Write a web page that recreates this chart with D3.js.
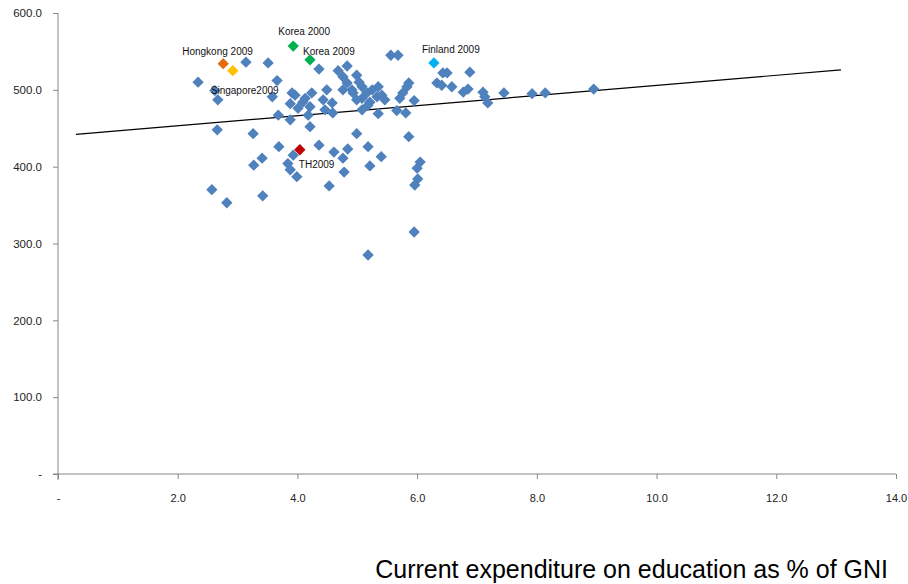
<!DOCTYPE html>
<html>
<head>
<meta charset="utf-8">
<script src="https://cdn.jsdelivr.net/npm/d3@7"></script>
<style>
  body { margin: 0; background: #fff; }
  svg text { font-family: "Liberation Sans", Arial, sans-serif; }
</style>
</head>
<body>
<div id="chart"></div>
<script>
	// data: countries (blue series)
	var spendX = [2.34, 2.62, 2.67, 3.14, 3.51, 3.66, 3.58, 2.66, 3.26, 3.68,
		3.88, 3.69, 3.93, 3.41, 3.27, 3.84, 3.88, 3.99, 2.57, 2.82,
		3.42, 3.91, 3.88, 3.96, 4.09, 4.13, 4.21, 4.18, 4.21, 4.24,
		4.01, 4.36, 4.43, 4.46, 4.49, 4.58, 4.59, 4.36, 4.61, 4.53,
		4.68, 4.76, 4.83, 4.99, 5.03, 4.83, 4.76, 4.91, 5.08, 5.16,
		5.25, 5.35, 5.41, 5.33, 5.08, 4.99, 5.21, 5.46, 4.93, 5.08,
		5.18, 5.35, 4.99, 4.84, 5.18, 4.76, 5.40, 5.21, 4.78, 5.18,
		5.56, 5.68, 5.71, 5.83, 5.86, 5.76, 5.95, 5.66, 5.81, 5.86,
		6.05, 6.00, 6.01, 5.96, 5.95, 6.43, 6.50, 6.88, 6.33, 6.41,
		6.58, 6.77, 6.85, 7.10, 7.13, 7.18, 7.45, 7.92, 8.14, 8.95];
	var scoreY = [510, 499, 487, 536, 535, 512, 491, 448, 443, 467,
		461, 426, 415, 411, 402, 404, 396, 387, 370, 353,
		362, 496, 482, 493, 484, 489, 478, 467, 452, 496,
		476, 527, 487, 474, 500, 483, 470, 428, 419, 375,
		525, 517, 531, 519, 510, 509, 500, 500, 504, 496,
		500, 504, 493, 491, 489, 487, 484, 487, 496, 474,
		480, 469, 443, 423, 426, 411, 413, 401, 393, 285,
		545, 545, 489, 504, 509, 496, 486, 473, 470, 439,
		406, 398, 384, 376, 315, 522, 522, 523, 509, 506,
		504, 497, 501, 497, 491, 483, 496, 495, 496, 501];

	// highlighted points
	var hlNames = ["Hongkong 2009", "Singapore2009", "Korea 2000", "Korea 2009", "Finland 2009", "TH2009"];
	var hlX = [2.76, 2.92, 3.93, 4.21, 6.28, 4.04];
	var hlY = [534, 525, 557, 539, 535, 422];

	// trend line end points
	var trendX = [0.3, 13.08];
	var trendY = [442, 526];

	// tick values
	var xTicks = [0, 2, 4, 6, 8, 10, 12, 14];
	var yTicks = [0, 100, 200, 300, 400, 500, 600];

	var xTitle = "Current expenditure on education as % of GNI";

	// styles
	var hlColors = {
		"Hongkong 2009": "#E46C0A",
		"Singapore2009": "#FFC000",
		"Korea 2000": "#00B050",
		"Korea 2009": "#00B050",
		"Finland 2009": "#00B0F0",
		"TH2009": "#C00000"
	};
	var hlLabelOffset = {
		"Hongkong 2009": [-41, -9],
		"Singapore2009": [-22, 23],
		"Korea 2000": [-15, -11],
		"Korea 2009": [-7, -5],
		"Finland 2009": [-12, -10],
		"TH2009": [-1, 18]
	};

	var width = 908, height = 584;
	var margin = { left: 58, right: 12, top: 13, bottom: 110 };

	var svg = d3.select("#chart")
		.append("svg")
			.attr("width", width)
			.attr("height", height);

	var x = d3.scaleLinear()
		.domain([0, 14])
		.range([margin.left, 896]);
	var y = d3.scaleLinear()
		.domain([0, 600])
		.range([474, margin.top]);

	var fmt = function(d) { return d === 0 ? "-" : d3.format(".1f")(d); };

	// y axis
	var yAxis = svg.append("g")
		.attr("transform", "translate(" + margin.left + ",0)")
		.call(d3.axisLeft(y).tickValues(yTicks).tickFormat(fmt).tickSize(5).tickPadding(11).tickSizeOuter(0));
	yAxis.select(".domain").attr("stroke", "#868686").attr("d", "M0," + y(600) + "V" + (y(0) + 6));
	yAxis.selectAll(".tick line").attr("stroke", "#868686");
	yAxis.selectAll(".tick text").attr("font-size", "11.5px").attr("fill", "#222");

	// x axis
	var xAxis = svg.append("g")
		.attr("transform", "translate(0," + y(0) + ")")
		.call(d3.axisBottom(x).tickValues(xTicks).tickFormat(fmt).tickSize(5).tickPadding(15).tickSizeOuter(0));
	xAxis.select(".domain").attr("stroke", "#868686").attr("d", "M" + (margin.left - 5) + ",0H" + x(14));
	xAxis.selectAll(".tick line").attr("stroke", "#868686");
	xAxis.selectAll(".tick text").attr("font-size", "11px").attr("fill", "#222");

	// trend line
	svg.append("line")
		.attr("x1", x(trendX[0]))
		.attr("y1", y(trendY[0]))
		.attr("x2", x(trendX[1]))
		.attr("y2", y(trendY[1]))
		.attr("stroke", "#000")
		.attr("stroke-width", 1.2);

	var diamond = d3.symbol().type(d3.symbolSquare).size(64);

	var pts = spendX.map(function(v, i) { return { x: v, y: scoreY[i] }; });

	svg.selectAll(".dot")
		.data(pts)
		.enter().append("path")
			.attr("class", "dot")
			.attr("d", diamond)
			.attr("fill", "#4F81BD")
			.attr("transform", function(d) {
				return "translate(" + x(d.x) + "," + y(d.y) + ") rotate(45)";
			});

	var hl = hlNames.map(function(n, i) { return { name: n, x: hlX[i], y: hlY[i] }; });

	svg.selectAll(".hl")
		.data(hl)
		.enter().append("path")
			.attr("class", "hl")
			.attr("d", diamond)
			.attr("fill", function(d) { return hlColors[d.name]; })
			.attr("transform", function(d) {
				return "translate(" + x(d.x) + "," + y(d.y) + ") rotate(45)";
			});

	svg.selectAll(".hllabel")
		.data(hl)
		.enter().append("text")
			.attr("class", "hllabel")
			.attr("x", function(d) { return x(d.x) + hlLabelOffset[d.name][0]; })
			.attr("y", function(d) { return y(d.y) + hlLabelOffset[d.name][1]; })
			.attr("font-size", "10px")
			.attr("fill", "#111")
			.text(function(d) { return d.name; });

	// x title
	svg.append("text")
		.attr("x", 888)
		.attr("y", 578)
		.attr("text-anchor", "end")
		.attr("font-size", "25px")
		.attr("fill", "#000")
		.text(xTitle);
</script>
</body>
</html>
